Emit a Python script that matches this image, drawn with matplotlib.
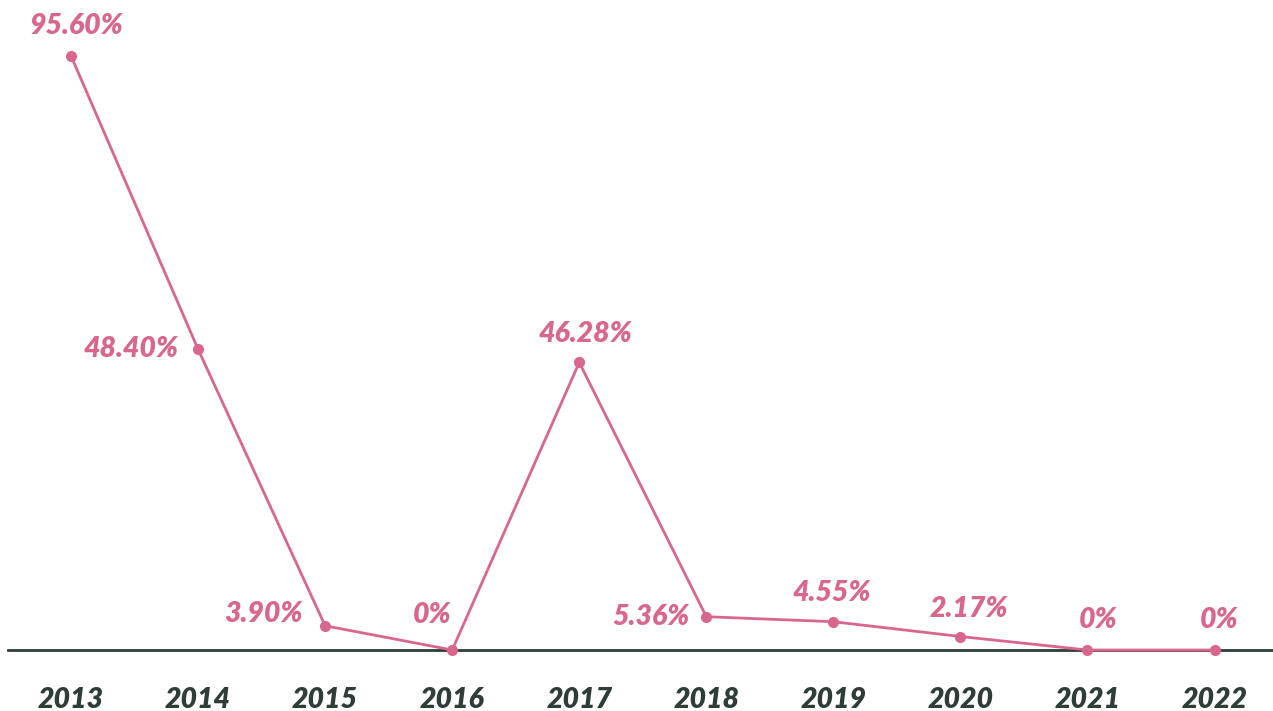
import matplotlib.pyplot as plt

years = ["2013", "2014", "2015", "2016", "2017", "2018", "2019", "2020", "2021", "2022"]
values = [95.60, 48.40, 3.90, 0.0, 46.28, 5.36, 4.55, 2.17, 0.0, 0.0]
labels = ["95.60%", "48.40%", "3.90%", "0%", "46.28%", "5.36%", "4.55%", "2.17%", "0%", "0%"]

# label offsets from each point, in pixels (dx, dy), and horizontal alignment
offsets = [(5, 30), (-20, 0), (-22, 12), (-20, 35), (6, 28), (-17, 0), (-2, 29), (8, 28), (11, 30), (5, 30)]
aligns = ["center", "right", "right", "center", "center", "right", "center", "center", "center", "center"]

pink = "#d9668f"
dark = "#2e3d38"


def main():
    fig = plt.figure(figsize=(12.73, 7.11), dpi=100)
    ax = fig.add_axes([8 / 1273, 61 / 711, 1 - 8 / 1273, 650 / 711])
    x = list(range(len(years)))

    ax.plot(x, values, color=pink, linewidth=2, marker="o", markersize=7, clip_on=False, zorder=3)
    ax.axhline(0, color=dark, linewidth=2, zorder=2, clip_on=False)

    for xi, v, lab, (dx, dy), ha in zip(x, values, labels, offsets, aligns):
        ax.annotate(lab, (xi, v), xytext=(dx * 0.72, dy * 0.72), textcoords="offset points",
                    ha=ha, va="center", color=pink, fontsize=20.5, fontweight="heavy",
                    fontstyle="italic", family="Lato")

    ax.set_xlim(-0.496, 9.46)
    ax.set_ylim(0, 104.6)
    ax.set_xticks(x)
    ax.set_xticklabels(years, color=dark, fontsize=20.5, fontweight="heavy", fontstyle="italic", family="Lato")
    ax.tick_params(axis="x", length=0, pad=26.5)
    ax.set_yticks([])
    for s in ax.spines.values():
        s.set_visible(False)

    fig.savefig("out.png", dpi=100)


if __name__ == "__main__":
    main()
